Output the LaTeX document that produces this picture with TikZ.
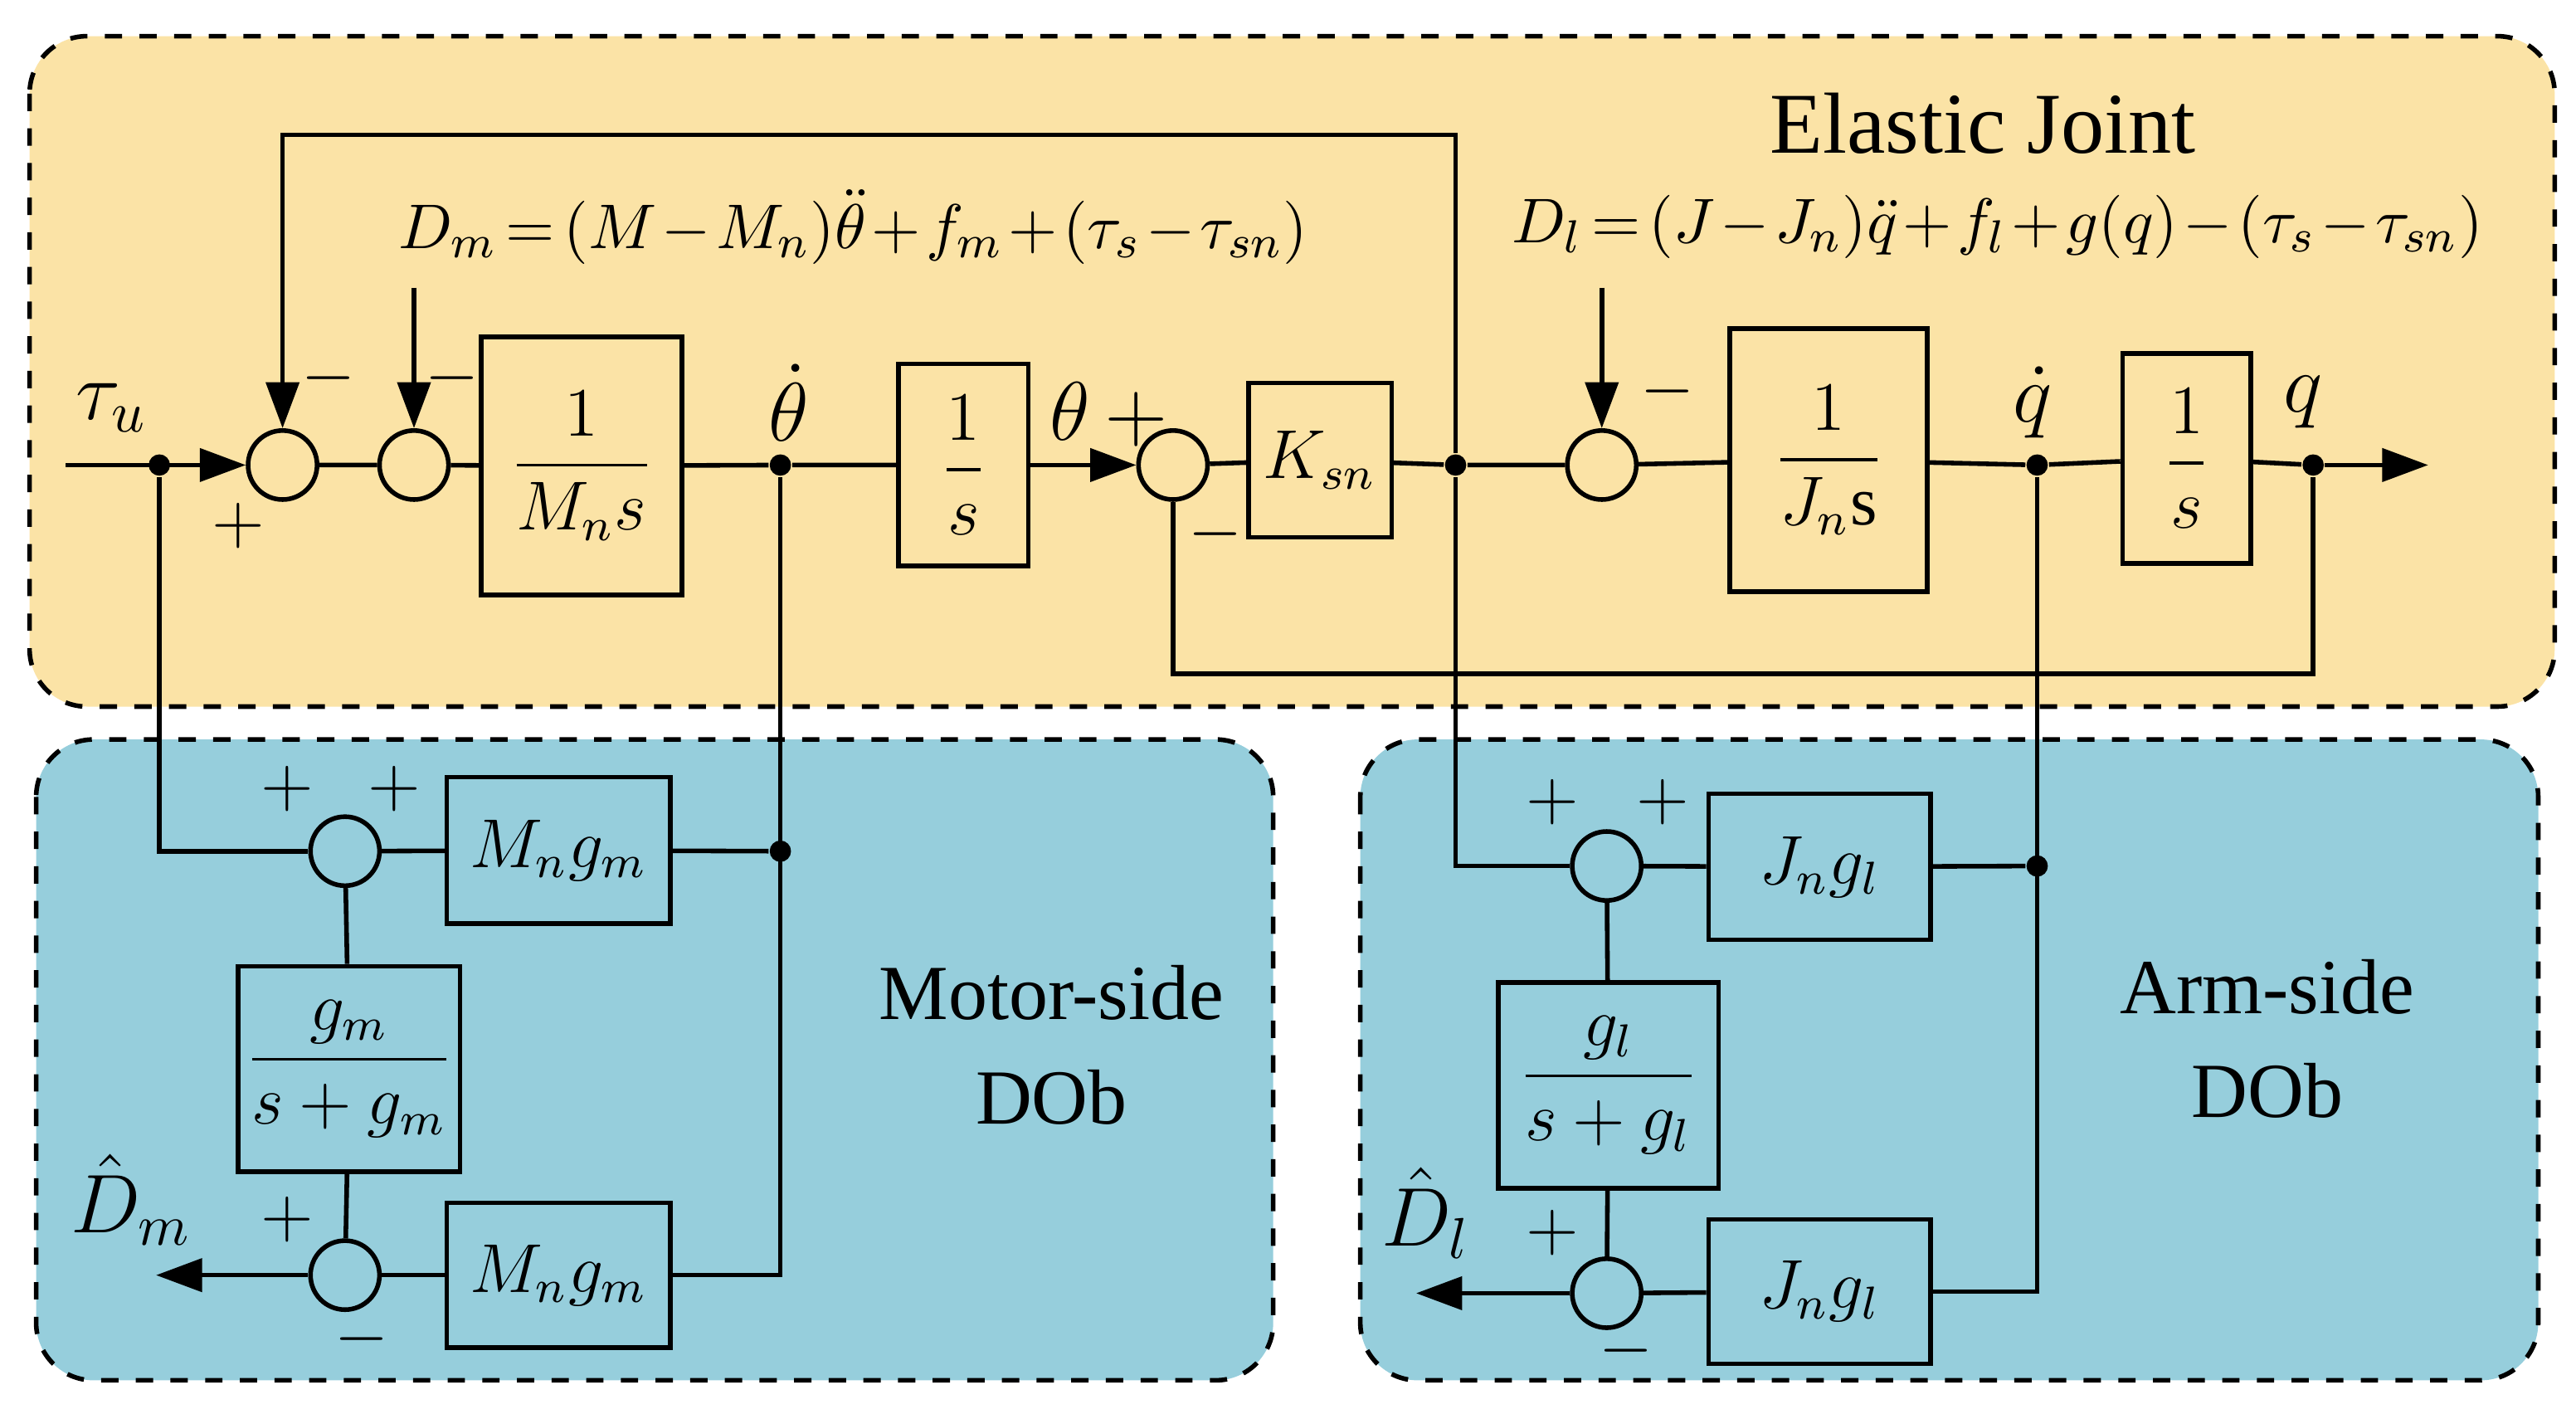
\documentclass[tikz,border=0pt]{standalone}
\usepackage{amsmath}
\usepackage{fontspec}
\setmainfont{Liberation Serif}
\usetikzlibrary{arrows.meta}
\definecolor{jointbg}{HTML}{FBE3A6}
\definecolor{dobbg}{HTML}{96CEDC}
\newcommand{\tightmath}{\medmuskip=1.5mu plus 1mu\relax\thickmuskip=2.5mu plus 1mu\relax}

\tikzset{
	blk/.style={draw, thick, fill=none, inner sep=0pt, font=\large},
	sumj/.style={draw, thick, circle, minimum size=0.42cm, inner sep=0pt},
	dot/.style={circle, fill, inner sep=0pt, minimum size=0.13cm},
	sig/.style={thick},
	arr/.style={thick, -{Triangle[length=0.28cm, width=0.2cm]}},
	area/.style={draw, thick, dashed, rounded corners=0.35cm},
	sgn/.style={font=\large},
	lbl/.style={font=\Large},
	eqn/.style={font=\fontsize{11}{13}\selectfont, anchor=west},
	txt/.style={font=\fontsize{13.5}{18}\selectfont, align=center}
}

\begin{document}
\begin{tikzpicture}[x=1cm, y=-1cm]
	\useasboundingbox (0,0) rectangle (15.68,8.6);

	% shaded regions
	\filldraw[area, fill=jointbg] (0.18,0.22) rectangle (15.55,4.30);
	\filldraw[area, fill=dobbg] (0.22,4.50) rectangle (7.75,8.40);
	\filldraw[area, fill=dobbg] (8.28,4.50) rectangle (15.45,8.40);

	\node[txt, font=\fontsize{15}{18}\selectfont] (title) at (12.07,0.75) {Elastic Joint};
	\node[txt] (motorlbl) at (6.40,6.36) {Motor-side\\DOb};
	\node[txt] (armlbl) at (13.80,6.32) {Arm-side\\DOb};

	% forward path
	\coordinate (in) at (0.40,2.83);
	\node[dot] (d1) at (0.97,2.83) {};
	\node[sumj] (s1) at (1.72,2.83) {};
	\node[sumj] (s2) at (2.52,2.83) {};
	\node[blk, minimum width=1.22cm, minimum height=1.57cm] (bM) at (3.54,2.835) {$\dfrac{1}{M_n s}$};
	\node[dot] (d2) at (4.75,2.83) {};
	\node[blk, minimum width=0.79cm, minimum height=1.23cm] (bS1) at (5.865,2.83) {$\dfrac{1}{s}$};
	\node[sumj] (s3) at (7.14,2.83) {};
	\node[blk, minimum width=0.87cm, minimum height=0.94cm] (bK) at (8.035,2.80) {$K_{sn}$};
	\node[dot] (d3) at (8.86,2.83) {};
	\node[sumj] (s4) at (9.75,2.83) {};
	\node[blk, minimum width=1.20cm, minimum height=1.60cm] (bJ) at (11.13,2.80) {$\dfrac{1}{J_n \mathrm{s}}$};
	\node[dot] (d4) at (12.40,2.83) {};
	\node[blk, minimum width=0.78cm, minimum height=1.28cm] (bS2) at (13.31,2.79) {$\dfrac{1}{s}$};
	\node[dot] (d5) at (14.08,2.83) {};
	\coordinate (out) at (14.78,2.83);

	\draw[arr] (in) -- (s1);
	\draw[sig] (s1) -- (s2) -- (bM) -- (d2) -- (bS1);
	\draw[arr] (bS1) -- (s3);
	\draw[sig] (s3) -- (bK) -- (d3) -- (s4) -- (bJ) -- (d4) -- (bS2) -- (d5);
	\draw[arr] (d5) -- (out);

	% feedback and disturbances
	\draw[arr] (d3) |- (1.72,0.82) -- (s1);
	\coordinate (dm) at (2.52,1.75);
	\coordinate (dl) at (9.75,1.75);
	\draw[arr] (dm) -- (s2);
	\draw[arr] (dl) -- (s4);
	\draw[sig] (s3) |- (14.08,4.10) -- (d5);

	\node[eqn] (eqm) at (2.30,1.38) {\tightmath$D_m=(M-M_n)\ddot{\theta}+f_m+(\tau_s-\tau_{sn})$};
	\node[eqn] (eql) at (9.08,1.38) {\tightmath$D_l=(J-J_n)\ddot{q}+f_l+g(q)-(\tau_s-\tau_{sn})$};

	\node[lbl] (tau) at (0.68,2.48) {$\tau_u$};
	\node[lbl] (thd) at (4.80,2.45) {$\dot{\theta}$};
	\node[lbl] (th) at (6.75,2.52) {$\theta\,{+}$};
	\node[lbl] (qd) at (12.37,2.45) {$\dot{q}$};
	\node[lbl] (q) at (14.02,2.45) {$q$};
	\node[sgn] (p1) at (1.45,3.20) {$+$};
	\node[sgn] (m1) at (2.00,2.30) {$-$};
	\node[sgn] (m2) at (2.75,2.30) {$-$};
	\node[sgn] (m3) at (7.40,3.25) {$-$};
	\node[sgn] (m4) at (10.15,2.38) {$-$};

	% motor-side observer
	\node[sumj] (s5) at (2.10,5.18) {};
	\node[blk, minimum width=1.36cm, minimum height=0.89cm] (bMg1) at (3.40,5.175) {$M_n g_m$};
	\node[dot] (d6) at (4.75,5.18) {};
	\node[blk, minimum width=1.35cm, minimum height=1.25cm] (bF1) at (2.125,6.505) {$\dfrac{g_m}{s+g_m}$};
	\node[sumj] (s6) at (2.10,7.76) {};
	\node[blk, minimum width=1.36cm, minimum height=0.88cm] (bMg2) at (3.40,7.76) {$M_n g_m$};
	\coordinate (dmo) at (0.95,7.76);

	\draw[sig] (d1) |- (s5);
	\draw[sig] (s5) -- (bMg1) -- (d6);
	\draw[sig] (d2) |- (bMg2);
	\draw[sig] (s5) -- (bF1) -- (s6);
	\draw[sig] (bMg2) -- (s6);
	\draw[arr] (s6) -- (dmo);

	\node[lbl] (dmh) at (0.80,7.30) {$\hat{D}_m$};
	\node[sgn] (p2) at (1.75,4.80) {$+$};
	\node[sgn] (p3) at (2.40,4.80) {$+$};
	\node[sgn] (p4) at (1.75,7.42) {$+$};
	\node[sgn] (m5) at (2.20,8.15) {$-$};

	% arm-side observer
	\node[sumj] (s7) at (9.78,5.27) {};
	\node[blk, minimum width=1.35cm, minimum height=0.89cm] (bJg1) at (11.075,5.275) {$J_n g_l$};
	\node[dot] (d7) at (12.40,5.27) {};
	\node[blk, minimum width=1.34cm, minimum height=1.25cm] (bF2) at (9.79,6.605) {$\dfrac{g_l}{s+g_l}$};
	\node[sumj] (s8) at (9.78,7.87) {};
	\node[blk, minimum width=1.35cm, minimum height=0.88cm] (bJg2) at (11.075,7.86) {$J_n g_l$};
	\coordinate (dlo) at (8.62,7.87);

	\draw[sig] (d3) |- (s7);
	\draw[sig] (s7) -- (bJg1) -- (d7);
	\draw[sig] (d4) |- (bJg2);
	\draw[sig] (s7) -- (bF2) -- (s8);
	\draw[sig] (bJg2) -- (s8);
	\draw[arr] (s8) -- (dlo);

	\node[lbl] (dlh) at (8.68,7.38) {$\hat{D}_l$};
	\node[sgn] (p5) at (9.45,4.88) {$+$};
	\node[sgn] (p6) at (10.12,4.88) {$+$};
	\node[sgn] (p7) at (9.45,7.50) {$+$};
	\node[sgn] (m6) at (9.90,8.22) {$-$};
\end{tikzpicture}
\end{document}
